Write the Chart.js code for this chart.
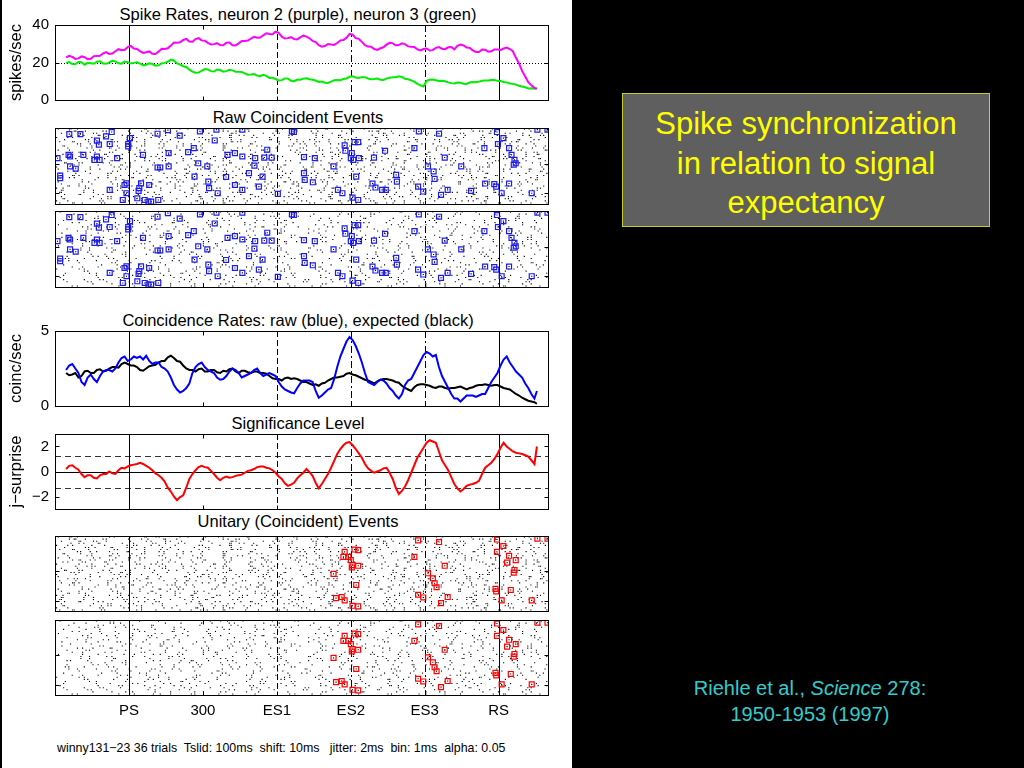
<!DOCTYPE html>
<html>
<head>
<meta charset="utf-8">
<script src="https://cdn.jsdelivr.net/npm/chart.js@4.4.1/dist/chart.umd.min.js"></script>
<style>
  body { margin: 0; background: #000; width: 1024px; height: 768px; overflow: hidden; position: relative; font-family: "Liberation Sans", Arial, sans-serif; }
  .abs { position: absolute; }
  canvas { position: absolute; left: 0; }
  .ttl { position: absolute; left: 98px; width: 400px; text-align: center; font-size: 16.5px; line-height: 20px; color: #000; white-space: nowrap; }
</style>
</head>
<body>
<div class="abs" style="left:2px;top:0;width:570px;height:768px;background:#fff"></div>

<div class="ttl" style="top:4px">Spike Rates, neuron 2 (purple), neuron 3 (green)</div>
<div class="ttl" style="top:107px">Raw Coincident Events</div>
<div class="ttl" style="top:310px">Coincidence Rates: raw (blue), expected (black)</div>
<div class="ttl" style="top:413px">Significance Level</div>
<div class="ttl" style="top:511px">Unitary (Coincident) Events</div>

<canvas id="rates" width="572" height="107" style="top:9px"></canvas>
<canvas id="raw1" width="572" height="96" style="top:118px"></canvas>
<canvas id="raw2" width="572" height="96" style="top:201px"></canvas>
<canvas id="coinc" width="572" height="107" style="top:315px"></canvas>
<canvas id="surp" width="572" height="107" style="top:418px"></canvas>
<canvas id="ue1" width="572" height="95" style="top:526px"></canvas>
<canvas id="ue2" width="572" height="115" style="top:610px"></canvas>

<div class="abs" style="left:57px;top:740px;font-size:12.4px;line-height:16px;color:#000;white-space:pre">winny131−23 36 trials  Tslid: 100ms  shift: 10ms   jitter: 2ms  bin: 1ms  alpha: 0.05</div>

<div class="abs" style="left:622px;top:93px;width:366px;height:122px;background:#5f5f5f;border:1px solid #c8c832;color:#ffff00;font-size:31px;line-height:39.5px;text-align:center;padding-top:10px">Spike synchronization<br>in relation to signal<br>expectancy</div>

<div class="abs" style="left:660px;top:675px;width:300px;text-align:center;color:#33cccc;font-size:20px;line-height:26px">Riehle et al., <i>Science</i> 278:<br>1950-1953 (1997)</div>

<script>
const tMin = -300, tMax = 1700;
const eventTimes = [0, 300, 600, 900, 1200, 1500];
const eventLabels = ['PS', '300', 'ES1', 'ES2', 'ES3', 'RS'];
const eventDash = [[], null, [6, 3], [7, 3, 2, 3], [7, 3, 2, 3], []];

// sliding window centres (ms)
const winTime = [-255, -230, -205, -180, -155, -130, -105, -80, -55, -30, -5, 20, 45, 70, 95, 120, 145, 170, 195, 220,
  245, 270, 295, 320, 345, 370, 395, 420, 445, 470, 495, 520, 545, 570, 595, 620, 645, 670, 695, 720,
  745, 770, 795, 820, 845, 870, 895, 920, 945, 970, 995, 1020, 1045, 1070, 1095, 1120, 1145, 1170, 1195, 1220,
  1245, 1270, 1295, 1320, 1345, 1370, 1395, 1420, 1445, 1470, 1495, 1520, 1545, 1570, 1595, 1620, 1645, 1655];
const midTime = [-242.5, -217.5, -192.5, -167.5, -142.5, -117.5, -92.5, -67.5, -42.5, -17.5, 7.5, 32.5, 57.5, 82.5, 107.5,
  132.5, 157.5, 182.5, 207.5, 232.5, 257.5, 282.5, 307.5, 332.5, 357.5, 382.5, 407.5, 432.5, 457.5, 482.5,
  507.5, 532.5, 557.5, 582.5, 607.5, 632.5, 657.5, 682.5, 707.5, 732.5, 757.5, 782.5, 807.5, 832.5, 857.5,
  882.5, 907.5, 932.5, 957.5, 982.5, 1007.5, 1032.5, 1057.5, 1082.5, 1107.5, 1132.5, 1157.5, 1182.5, 1207.5, 1232.5,
  1257.5, 1282.5, 1307.5, 1332.5, 1357.5, 1382.5, 1407.5, 1432.5, 1457.5, 1482.5, 1507.5, 1532.5, 1557.5, 1582.5, 1607.5, 1632.5];

const rateN2 = [22.7, 23, 22.2, 22.8, 22, 23.5, 24.8, 24.5, 26, 26.5, 28.2, 27.5, 26, 25.5, 24.6, 25.8, 27.2, 29, 30.5, 32,
  31.2, 32.5, 31.8, 30.5, 29.8, 29.3, 30.6, 29.2, 30.2, 31.5, 32.8, 33.2, 34.5, 35.2, 36.4, 33.8, 33, 32.5, 33.4, 33.8,
  31.5, 29.2, 28.8, 29.6, 30.4, 32, 35.3, 33, 31, 28.5, 27.2, 27.6, 29.5, 30.2, 29.3, 29.8, 28.4, 27, 27.2, 26.4,
  27.8, 27.3, 28.1, 27, 29.6, 28, 26.5, 25.6, 26.8, 26, 27, 27.5, 27.2, 22.5, 15.5, 9.5, 6.5, 6];
const rateN2Mid = [23.6, 21.9, 23.3, 21.7, 23.4, 23.6, 25.5, 24.8, 27.1, 26.8, 28.8, 27.2, 25.1, 25.9, 24.5, 27.3, 27.6, 30.6, 30.8, 32.6,
  31.1, 33, 31.6, 29.6, 30.3, 29.2, 30.7, 29.1, 31.5, 31.7, 33.7, 33.3, 35.6, 35.1, 35.8, 32.8, 33.5, 32.3, 34.3, 32.9,
  30.9, 28.4, 29.9, 29.4, 31.8, 33.1, 34.8, 32.6, 29.2, 28.4, 26.7, 28.1, 30.5, 29.2, 30.2, 28.6, 28.3, 26.5, 27.5, 26.6,
  28.2, 27.1, 28.3, 28.9, 29.1, 27.8, 25.6, 26.9, 25.8, 27, 26.6, 28, 26, 19.5, 12.5, 7.8];
const rateN3 = [19.8, 19.2, 20.3, 18.8, 19.6, 20.4, 19.5, 20, 20.6, 19.4, 20.2, 19.8, 19.4, 18.8, 19.2, 18.5, 19.8, 21.5, 19.5, 18,
  16.2, 14.5, 15.6, 16.3, 15.2, 16, 15.4, 15.8, 15, 14.2, 13.6, 13, 13.4, 11.8, 11.2, 10.6, 11.4, 10, 10.8, 11.6,
  10.8, 9.6, 9.2, 9.8, 10.6, 11.2, 12.4, 12, 12.2, 11.5, 11.2, 10.8, 11.4, 12.1, 12.6, 11.3, 10.5, 8.6, 7.2, 10.8,
  10.5, 10.2, 9.4, 8.8, 9.2, 8.6, 9.6, 9.8, 10.4, 10.7, 10.2, 9.6, 8.8, 8.2, 7.2, 6.2, 6, 6.2];
const rateN3Mid = [20.2, 19.1, 20.1, 19.8, 19.3, 20.6, 19.3, 20.9, 19.6, 20.5, 19.5, 20.1, 18.6, 19.6, 18.3, 19.5, 20.4, 21.1, 18.9, 17.6,
  15.1, 14.6, 16.5, 15.4, 16.2, 15.1, 16.1, 15.1, 14.9, 13.5, 13.8, 12.7, 12.9, 11.9, 10.4, 11.5, 10.3, 10.9, 11.4, 11.1,
  10.4, 9.8, 9.1, 10.5, 10.5, 11.5, 12.7, 11.8, 12.2, 11.1, 11.4, 10.7, 11.9, 12.1, 12.3, 11.1, 9.8, 7.8, 10.2, 10.9,
  10.1, 10, 9, 9.3, 8.7, 9.3, 9.5, 10.3, 10.4, 10.7, 10.1, 9.4, 8.6, 7.6, 6.8, 6.3];

const coincRaw = [2.4, 2.8, 2.2, 1.4, 2.1, 1.6, 2.3, 2.4, 2.5, 3.2, 3.0, 3.3, 3.3, 3.35, 2.8, 2.9, 2.5, 1.9, 1.1, 1.0,
  1.5, 2.6, 2.9, 2.4, 2.2, 1.75, 2.0, 2.5, 2.2, 2.0, 2.2, 2.5, 2.0, 2.2, 2.0, 1.3, 1.0, 0.85, 1.5, 1.7,
  1.6, 0.55, 0.9, 1.2, 2.6, 3.8, 4.6, 4.0, 2.9, 1.6, 1.4, 1.75, 1.5, 1.0, 0.5, 1.4, 1.8, 2.6, 3.4, 3.5,
  3.4, 2.0, 1.2, 0.5, 0.3, 0.7, 0.7, 0.7, 0.8, 1.6, 2.2, 3.1, 2.9, 2.3, 1.9, 1.2, 0.5, 1.0];
const coincRawMid = [2.7, 2.5, 1.6, 1.9, 1.8, 2.0, 2.4, 2.3, 2.9, 3.3, 3.1, 3.2, 3.1, 3.0, 2.9, 2.6, 2.3, 1.4, 0.9, 1.2,
  2.2, 2.8, 2.6, 2.3, 1.9, 1.8, 2.3, 2.4, 1.9, 2.1, 2.4, 2.2, 2.1, 2.1, 1.6, 1.1, 0.9, 1.2, 1.7, 1.7,
  1.0, 0.7, 1.1, 1.8, 3.3, 4.3, 4.4, 3.5, 2.2, 1.5, 1.6, 1.7, 1.2, 0.7, 0.8, 1.7, 2.2, 3.0, 3.6, 3.3,
  2.6, 1.6, 0.8, 0.5, 0.5, 0.7, 0.6, 0.8, 1.2, 1.9, 2.7, 3.3, 2.6, 2.1, 1.5, 0.8];
const coincExp = [2.2, 2.1, 1.9, 2.3, 2.2, 2.4, 2.3, 2.5, 2.6, 2.8, 2.8, 2.7, 2.4, 2.5, 2.7, 2.9, 3.0, 3.35, 3.0, 2.7,
  2.4, 2.3, 2.5, 2.3, 2.4, 2.2, 2.3, 2.5, 2.2, 2.35, 2.2, 2.3, 2.2, 2.0, 1.8, 1.7, 1.9, 1.85, 1.7, 1.6,
  1.4, 1.35, 1.55, 1.8, 1.9, 2.0, 2.2, 2.05, 1.85, 1.7, 1.5, 1.75, 1.8, 1.7, 1.55, 1.2, 1.0, 1.4, 1.45, 1.35,
  1.2, 1.3, 1.15, 1.2, 1.3, 1.1, 1.25, 1.4, 1.45, 1.35, 1.4, 1.2, 1.1, 0.8, 0.55, 0.35, 0.25, 0.15];
const coincExpMid = [2.05, 2.2, 2.0, 2.35, 2.2, 2.45, 2.35, 2.6, 2.55, 2.9, 2.7, 2.6, 2.35, 2.65, 2.75, 3.0, 3.25, 3.2, 2.95, 2.5,
  2.4, 2.45, 2.3, 2.4, 2.25, 2.35, 2.45, 2.3, 2.35, 2.25, 2.3, 2.2, 2.15, 1.85, 1.8, 1.85, 1.8, 1.8, 1.6, 1.5,
  1.45, 1.5, 1.7, 1.9, 1.95, 2.15, 2.1, 1.95, 1.75, 1.6, 1.65, 1.8, 1.75, 1.6, 1.35, 1.1, 1.25, 1.45, 1.4, 1.25,
  1.3, 1.2, 1.2, 1.25, 1.2, 1.2, 1.35, 1.4, 1.4, 1.4, 1.3, 1.15, 0.95, 0.7, 0.45, 0.3];

const surprise = [0.2, 0.5, 0.15, -0.45, -0.3, -0.55, -0.2, 0.0, -0.2, 0.3, 0.4, 0.55, 0.7, 0.45, 0.1, -0.3, -0.8, -1.6, -2.3, -1.9,
  -0.6, 0.1, 0.45, 0.3, -0.2, -0.7, -0.4, -0.45, -0.3, -0.1, 0.1, 0.35, 0.4, 0.25, -0.1, -0.6, -1.15, -0.9, -0.3, 0.2,
  -0.35, -1.35, -0.6, 0.3, 1.4, 2.1, 2.35, 1.8, 1.1, 0.25, -0.1, 0.1, 0.3, -0.6, -1.8, -1.2, -0.1, 1.1, 1.9, 2.5,
  2.3, 0.9, 0.1, -1.0, -1.6, -1.15, -1.0, -0.75, 0.3, 0.7, 1.4, 2.3, 1.8, 1.5, 1.4, 1.2, 0.6, 2.0];
const surpriseMid = [0.45, 0.3, -0.2, -0.3, -0.5, -0.3, -0.2, -0.15, 0.1, 0.25, 0.5, 0.6, 0.6, 0.3, -0.15, -0.5, -1.3, -2.0, -2.05, -1.3,
  -0.2, 0.35, 0.35, 0.05, -0.5, -0.5, -0.5, -0.35, -0.25, 0.05, 0.2, 0.4, 0.3, 0.1, -0.4, -0.95, -1.05, -0.55, -0.1, -0.05,
  -0.9, -1.0, -0.2, 0.85, 1.8, 2.3, 2.1, 1.45, 0.6, 0.05, 0.0, 0.25, -0.1, -1.3, -1.55, -0.7, 0.5, 1.5, 2.3, 2.4,
  1.6, 0.5, -0.45, -1.35, -1.4, -1.05, -0.9, -0.2, 0.5, 1.0, 1.9, 2.0, 1.6, 1.45, 1.3, 0.9];
const surpriseLevel = 1.28;

const rateTicks = [0, 20, 40];
const coincTicks = [0, 5];
const surpriseTicks = [-2, 0, 2];
const rasterTicks = [17, 31];

// spike trains: each char is an inter-spike interval (base 36) in isi units, counted from tMin
const isiUnitN2 = 6.5, isiUnitN3 = 7;
const trainsN2 = [
  '2714k3a9162d5b83f1h472c61e9a3g25184b7d2i3561ca8e4f2', '9316b2e84a17gd3526h1c94f7a2318e6bk4253d9a716c3h5248',
  '4b1826fa3937c5e12h648d2a9k3157b46e2g1938ca5273f6d14', 'a5391e7c2684hb1536d92f4a1k7283e5c16b9g4723d81a56f39',
  '173c8e4295af2b61d3857h4a29c16e3k74b2581f9d3a6247g15', '6d24a1938b5f72e6i1c4839a2d57h1b3624ef8193c5a72k4618',
  '3819g2c5a47d6e1329fb4826a7c3h15e92d4b6318ka7253f9c1', 'e2648b1a93c57d2f1h9436a5e81b2g7c4916d3a5k2748e3b196',
  '51a7d3962c84be1f53a7296h4c1d85g2a3e7194b6f2c58i3174', '8c3b1574e29a6d183g5f2a7461c9h3e52b8d1a467f93k2c5183',
  '27f4a8163d9b2e5c71h4682a3g9d15e7b4c3862f1a9k57d2e41', 'b416392a7e5d81c4f62h3a9157e2d8b1g643c9a5271f8e3d6k2',
  '5392c1a8e74b6f2d193h5a8264c7e1b953g2d4a718f6c3b29k4', '1e8a5d2734c9b16f8a3h2754e1c9d62b8g4173a5e92f6c14d8h',
  'd7326a1e94b5c82f1734h9a6d2e518c3b7g9246a1f5e83d2k71', '4a9c1e6382b7d54f1a93h2c6857e1b4d39g2a7c5168f4e2b9a3',
  '6182d4a3f95c7e1b2463h8a5d91c7e24b6f3g1859a4d27c6e13', 'a23c8615e9d4b72f38a1h564c9e2d7b31f8a6g42c5917e3d8b4',
  '1c9f3527ak8136b4d29e51h3c7a6284bf9231e6d74a5c2g9183', '2k6d3e8f1725a9c346g1b8d2e7519a3h26f4c18d5e7a293614b',
  '8425h3c617a9d3524kb6e8132a7f49c1h6253dg71a48e2b6139', '3a9b2e4f8615c7a2g93d4b1e7586c2h39a1f45d7b2836e1c9a4',
  '4713i85c2f6b4917e3a2g58d1c4h6927a35f1eb48c2693d7a15', '93f65a18d3274g9b61c5e3827k1a4f29d6351bh4862c7e1935a',
  'h8d41c6f29e5a3714g8b26d9c1e4572h3a8f61b9c4372d5a8e1', '2f4e8ac1653i2d7b48152g3a9e16c274h1f38b5d2619a3k4172',
  '4b8d3e7195c24g6a8f13b7d2e9c465h1a83f27b4d9e5168c32a', '8164k27a5c3918fe4263b1h75d2a9384c1i6e27f5b8391a42d6',
  '14e2d75k9a1f2683c4b7e51d9g3a2864h17c5e2b9d3618a4f72', '41d6f3725ac8391g2e64b7513k9a2d846h21e5c7393af6281b4',
  '31e6c72d4a9581g3f6b42e7c19d5a8h3642b1e7c59f3a4d2816', '691b3e8472k5a3d6194c7g2b18e5a6349h1f2d75c39a1b8462e',
  '4k92b3c6f817a4d2g359b1e7c4628a5h391d2f6b47e8a1c2935', '51g7426a3d9f1852b47k3e61c92a4h7583d16b2fa5924e8c371',
  '17k2d38e5f1a6429g7b3c815e2d6a9h4371f28c5b49e1a6237d', '3815c2k39f764a1d8b25e3h9c1647a2f5g381d6a92e4751b3c8'
];
const trainsN3 = [
  '3l82fbu649hd2p7a5c1ie38kg26rb4d9m5', 'b7e24q9c6a3h81kf5d2o7g3b9e46jc2a8l', '8h3c5b1ri4a92e7gd6k2f38m5a1c9bh4e6',
  'e92a6fd4l3b8c27h5k1g9e36p4a2d7cb58', '5d8k2ab6e93g4c1j7f2h85a3n6e4bd92c7', 'a4c9e3g18b5h6d27m4f3a9kc2e65b8j3d1',
  '2j6a8d4cf1b93e7h5g2l4a6c38d9bk1e5f', 'g3b5a92e7d6k41c8h3f5j2a7e94b6d2cm3', '7c2f8b4ah5d9e13g6k2a8c5i4b7fd3e926',
  'd5a3e8c16j9b4g2h7f5a3kd8e2c64b9o3a', '4e7b2dc9a5h3f81g6e4k2b7jd5a93c8f2h', '9ck3b62hma47e2f8d5q3b916c4g8ea27',
  '4m2b8e16kc3a9f5d2l73g8b4e6ha29c5', 'd36a1hf9b4c82e5o7g3a4k1d8c6b92je', '7b2g5e9ca38d4j16f2kh7c3a5e9d48bm',
  'a6d4h2c8e71b9f5ig3d6a4c2e8kb53f7', '2e9f6b4a3c8hd51kg7a2e6c9b4f3d8j5', 'f5a3c7e24kb9d6g1h8e3a5c2m7b4d96a',
  'f5e1kb9d83c6a4l2g5h7e39b1fc4d8a6j2', '72ae8g4c619b3q5d8f2e74amh26b3kc9', 'l8a2cj64e9b3g7o2d5fk18h3a6c9q42e7b',
  '7f35bk8e2c4a6d3gi5f9b17e8c2h4d6a', '629e3df7b4i5c8a2k6g31e9d5ha4b8f2c7', '85bc7d2a4p63e9g1k5h72c8b3l4df6a29e',
  'ej29b6c8d1k4a3g7o5e28c4b9fh1a63d', '5m9d4br62gk83ei1c5a7p2dh946ubf28l3', 'a69d4b7m2c5a3e8h1g6d9bk42e7c3a5f',
  '1d3j8b56e2ck9a3f4m72d6h5b81g3e9c4a', 'h2f8c39a5dj7b2k4e6g18f3h5a9cd2b7e4', '6e4hb9c1a5m83f2k6dg7e29a4ir1b5c3h8',
  '5j8d3f4b9c6e2a7gk15dh8c3a4b6f9e2', '3mc2d6b49e7a2j5f3h8c14k6d7e29a5b3g', '5c92ah6e4b8g37l2d5f9a3ck61e8b2m4',
  '7c29db4e6n3a58h2f7j1c4g39e6ba2k8d5', 'mb84d9e5a3c7hk2f61j4d83ac9e5g2b7', 'a3o9b46c2e8dk3a5f7h2g4b9j61c8e3a5d'
];

// coincident events [time ms, trial] (trial 0 = top row)
const coincEvents = [
  [-290, 14.3], [-242, 2.9], [-197, 2.9], [-245, 12.7], [-239, 13.5], [-185, 12.7], [-130, 6.0], [-122, 7.9], [-93, 4.0],
  [-78, 7.6], [-70, 1.9], [-140, 15.1], [-119, 15.1], [-130, 13.5], [-48, 14.3], [-239, 18.2], [-216, 19.3], [-279, 23.8],
  [-279, 22.5], [-78, 29.3], [-18, 27.0], [-10, 30.9], [-25, 34.1], [-3, 7.6], [-3, 8.7], [4, 4.8],
  [57, 12.7], [49, 26.2], [42, 28.5], [34, 33.3], [39, 29.8], [64, 34.1], [79, 34.9], [90, 34.9], [119, 34.1],
  [82, 27.0], [116, 18.7], [127, 18.7], [161, 18.2], [161, 11.9], [116, 2.7], [158, 1.0], [206, 3.6], [-10, 26.2],
  [240, 11.4], [263, 9.5], [281, 16.7], [318, 18.2], [266, 23.0], [322, 25.4], [325, 28.5], [360, 30.9], [288, 1.6],
  [355, 0.8], [348, 5.9], [400, 12.7], [430, 11.9], [460, 13.5], [394, 23.2], [430, 27.0], [460, 29.3], [487, 21.4],
  [509, 17.8], [512, 14.3], [527, 27.8], [542, 23.0], [549, 14.0], [561, 10.3], [579, 14.0], [460, 0.8],
  [604, 31.2], [661, 1.6], [669, 1.9], [710, 13.8], [754, 14.3], [710, 21.4], [713, 24.6], [746, 25.7], [830, 18.2],
  [848, 29.3], [866, 30.9], [875, 8.2], [878, 10.8], [915, 6.7], [930, 6.7], [904, 11.9], [900, 14.3], [910, 15.1],
  [933, 14.3], [922, 23.0], [907, 33.0], [930, 34.1],
  [994, 14.0], [988, 26.3], [1000, 28.2], [1027, 29.3], [1042, 29.3], [1039, 10.8], [1084, 22.2], [1087, 25.4],
  [1158, 9.5], [1176, 1.6], [1258, 2.7], [1281, 14.0], [1213, 18.2], [1236, 20.6], [1240, 24.1], [1173, 27.8],
  [1194, 30.1], [1266, 31.7], [1293, 29.3], [1348, 18.2],
  [1388, 29.8], [1442, 9.5], [1445, 26.3], [1482, 26.6], [1490, 27.8], [1493, 1.9], [1497, 7.6], [1519, 4.8],
  [1512, 30.9], [1542, 9.5], [1552, 12.7], [1542, 26.3], [1564, 15.1], [1561, 17.4], [1569, 16.7], [1634, 30.9],
  [1657, 0.8], [1698, 0.8]
];
// unitary events [time ms, trial]
const unitaryEvents = [
  [875, 7.6], [870, 10.0], [890, 10.0], [915, 6.5], [930, 6.8], [907, 14.0], [904, 15.1], [930, 14.3], [900, 11.6],
  [830, 18.2], [922, 23.5], [840, 29.8], [863, 29.3], [875, 30.9], [907, 33.5], [930, 33.8],
  [1173, 2.1], [1258, 2.9], [1158, 10.0], [1281, 14.3], [1213, 17.9], [1233, 20.3], [1240, 22.7], [1248, 24.6],
  [1173, 28.2], [1194, 29.5], [1266, 32.2], [1293, 29.3],
  [1493, 1.7], [1519, 4.8], [1493, 7.6], [1542, 9.5], [1534, 12.8], [1569, 11.6], [1564, 16.3], [1561, 17.6],
  [1487, 25.4], [1490, 26.6], [1549, 25.9], [1512, 30.9], [1634, 30.9], [1657, 1.3], [1698, 1.3]
];

Chart.defaults.font.family = '"Liberation Sans", Arial, sans-serif';
Chart.defaults.color = '#000';

const xy = (ts, vs) => ts.map((t, i) => ({ x: t, y: vs[i] }));
const trace = (vals, mids) => xy(winTime, vals).concat(xy(midTime, mids)).sort((a, b) => a.x - b.x);

function spikesFrom(rows, unit) {
  const pts = [];
  rows.forEach((s, trial) => {
    let t = tMin;
    for (const ch of s) {
      t += parseInt(ch, 36) * unit;
      if (t >= tMax) break;
      pts.push({ x: t, y: trial + 0.5 });
    }
  });
  return pts;
}

const framePlugin = {
  id: 'frame',
  beforeDatasetsDraw(chart, args, opts) {
    const { ctx, chartArea: a, scales: { x, y } } = chart;
    ctx.save();
    ctx.lineWidth = 1;
    (opts.hlines || []).forEach(h => {
      const py = Math.round(y.getPixelForValue(h.y)) + 0.5;
      ctx.strokeStyle = h.color || '#000';
      ctx.setLineDash(h.dash);
      ctx.beginPath(); ctx.moveTo(a.left, py); ctx.lineTo(a.right, py); ctx.stroke();
    });
    ctx.strokeStyle = '#000';
    eventTimes.forEach((t, i) => {
      if (!eventDash[i]) return;
      const px = Math.round(x.getPixelForValue(t)) + 0.5;
      ctx.setLineDash(eventDash[i]);
      ctx.beginPath(); ctx.moveTo(px, a.top); ctx.lineTo(px, a.bottom); ctx.stroke();
    });
    ctx.restore();
  },
  afterDatasetsDraw(chart) {
    const { ctx, chartArea: a, scales: { x, y } } = chart;
    ctx.save();
    ctx.strokeStyle = '#000';
    ctx.lineWidth = 1;
    const l = Math.round(a.left) + 0.5, r = Math.round(a.right) + 0.5;
    const t = Math.round(a.top) + 0.5, b = Math.round(a.bottom) + 0.5;
    ctx.strokeRect(l, t, r - l, b - t);
    ctx.beginPath();
    eventTimes.forEach(v => {
      const px = Math.round(x.getPixelForValue(v)) + 0.5;
      ctx.moveTo(px, t); ctx.lineTo(px, t + 4);
      ctx.moveTo(px, b); ctx.lineTo(px, b - 4);
    });
    y.ticks.forEach(tk => {
      const py = Math.round(y.getPixelForValue(tk.value)) + 0.5;
      ctx.moveTo(l, py); ctx.lineTo(l + 4, py);
      ctx.moveTo(r, py); ctx.lineTo(r - 4, py);
    });
    ctx.stroke();
    ctx.restore();
  }
};

function panel(id, datasets, ax, hlines, withLabels) {
  const pad = ax.labels ? 16 : 10;
  return new Chart(document.getElementById(id), {
    type: 'scatter',
    data: { datasets },
    options: {
      responsive: false,
      animation: false,
      events: [],
      layout: { padding: { top: pad, bottom: withLabels ? 0 : pad, left: 0, right: 24 } },
      plugins: { legend: { display: false }, tooltip: { enabled: false }, frame: { hlines: hlines } },
      scales: {
        x: {
          type: 'linear', min: tMin, max: tMax,
          display: !!withLabels,
          afterBuildTicks: s => { s.ticks = eventTimes.map(v => ({ value: v })); },
          afterFit: s => { if (withLabels) s.height = 30; },
          grid: { display: false, drawTicks: false },
          border: { display: false },
          ticks: {
            padding: 7, font: { size: 15 }, maxRotation: 0, autoSkip: false,
            callback: v => eventLabels[eventTimes.indexOf(v)]
          }
        },
        y: {
          min: ax.min, max: ax.max, reverse: !!ax.reverse,
          afterBuildTicks: s => { s.ticks = ax.ticks.map(v => ({ value: v })); },
          afterFit: s => { s.width = 55; },
          grid: { display: false, drawTicks: false },
          border: { display: false },
          ticks: { display: !!ax.labels, padding: 6, font: { size: 15 }, callback: v => String(v).replace('-', '−') },
          title: { display: !!ax.title, text: ax.title, font: { size: 16.5 }, padding: { top: 7, bottom: 0 } }
        }
      }
    },
    plugins: [framePlugin]
  });
}

const lineSet = (data, color) => ({ data, showLine: true, pointRadius: 0, borderColor: color, borderWidth: 2, tension: 0 });

function rasterSets(spikes, events, color) {
  const ev = events.map(([t, tr]) => ({ x: t, y: tr }));
  return [
    { data: ev, pointStyle: 'rect', pointRadius: 3.5, borderColor: color, borderWidth: 1.2, backgroundColor: 'rgba(0,0,0,0)' },
    { data: ev, pointStyle: 'rect', pointRadius: 0.8, backgroundColor: '#000', borderWidth: 0 },
    { data: spikes, pointStyle: 'rect', pointRadius: 0.8, backgroundColor: '#000', borderWidth: 0 }
  ];
}

const spikesN2 = spikesFrom(trainsN2, isiUnitN2);
const spikesN3 = spikesFrom(trainsN3, isiUnitN3);
const rasterAxis = { min: 0, max: 36, reverse: true, ticks: rasterTicks };

panel('rates', [lineSet(trace(rateN2, rateN2Mid), '#ff00ff'), lineSet(trace(rateN3, rateN3Mid), '#00ee00')],
  { min: 0, max: 40, ticks: rateTicks, labels: true, title: 'spikes/sec' },
  [{ y: 20, dash: [1, 2] }]);
panel('raw1', rasterSets(spikesN2, coincEvents, '#1c1cf0'), rasterAxis, []);
panel('raw2', rasterSets(spikesN3, coincEvents, '#1c1cf0'), rasterAxis, []);
panel('coinc', [lineSet(trace(coincRaw, coincRawMid), '#0000ff'), lineSet(trace(coincExp, coincExpMid), '#000')],
  { min: 0, max: 5, ticks: coincTicks, labels: true, title: 'coinc/sec' }, []);
panel('surp', [lineSet(trace(surprise, surpriseMid), '#ff0000')],
  { min: -3, max: 3, ticks: surpriseTicks, labels: true, title: 'j−surprise' },
  [{ y: 0, dash: [] }, { y: surpriseLevel, dash: [6, 4], color: '#333' }, { y: -surpriseLevel, dash: [6, 4], color: '#333' }]);
panel('ue1', rasterSets(spikesN2, unitaryEvents, '#ff0000'), rasterAxis, []);
panel('ue2', rasterSets(spikesN3, unitaryEvents, '#ff0000'), rasterAxis, [], true);
</script>
</body>
</html>
